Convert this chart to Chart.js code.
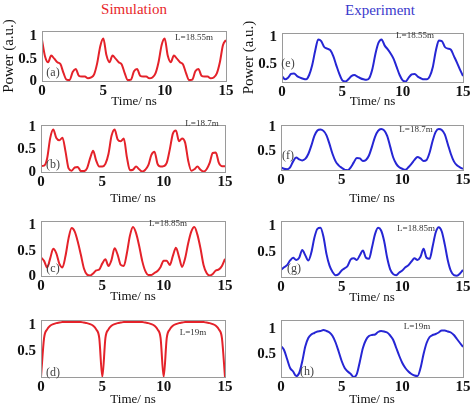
<!DOCTYPE html>
<html>
<head>
<meta charset="utf-8">
<script src="https://cdn.jsdelivr.net/npm/chart.js@4.4.0/dist/chart.umd.min.js"></script>
<style>
  body { margin: 0; background: #fff; width: 475px; height: 406px; position: relative; overflow: hidden; font-family: "Liberation Serif", serif; }
  canvas { position: absolute; }
  .txt { position: absolute; transform: translate(-50%, -50%); white-space: nowrap; line-height: 1; }
  .head { font-size: 15px; }
  .len { font-size: 9px; color: #333; }
  .tag { font-size: 12px; color: #444; }
</style>
</head>
<body>
<div class="txt head" style="left:134px;top:9px;color:#e8262a">Simulation</div>
<div class="txt head" style="left:380px;top:10px;color:#3a3acc">Experiment</div>

<script>
const timeNs = [
  0, 0.25, 0.5, 0.75, 1, 1.25, 1.5, 1.75, 2, 2.25, 2.5, 2.75, 3, 3.25, 3.5, 3.75, 4, 4.25, 4.5, 4.75,
  5, 5.25, 5.5, 5.75, 6, 6.25, 6.5, 6.75, 7, 7.25, 7.5, 7.75, 8, 8.25, 8.5, 8.75, 9, 9.25, 9.5, 9.75,
  10, 10.25, 10.5, 10.75, 11, 11.25, 11.5, 11.75, 12, 12.25, 12.5, 12.75, 13, 13.25, 13.5, 13.75, 14, 14.25, 14.5, 14.75, 15
];

// simulation, left column
const simA = [
  0.92, 0.55, 0.42, 0.57, 0.5, 0.42, 0.38, 0.18, 0.03, 0.02, 0.2, 0.27, 0.12, 0.1, 0.1, 0.06, 0.08, 0.15, 0.4, 0.78,
  0.95, 0.58, 0.42, 0.57, 0.5, 0.42, 0.37, 0.17, 0.02, 0.03, 0.22, 0.27, 0.12, 0.1, 0.1, 0.06, 0.08, 0.17, 0.42, 0.8,
  0.95, 0.57, 0.42, 0.57, 0.5, 0.42, 0.37, 0.17, 0.02, 0.03, 0.22, 0.27, 0.12, 0.1, 0.1, 0.06, 0.08, 0.17, 0.42, 0.8, 0.92
];
const simB = [
  0.13, 0.14, 0.3, 0.75, 0.94, 0.75, 0.7, 0.76, 0.45, 0.08, 0.03, 0.1, 0.11, 0.02, 0.02, 0.08, 0.3, 0.47, 0.25, 0.12,
  0.12, 0.18, 0.4, 0.8, 0.94, 0.72, 0.68, 0.74, 0.33, 0.04, 0.05, 0.12, 0.06, 0.01, 0.05, 0.15, 0.38, 0.45, 0.18, 0.12,
  0.13, 0.2, 0.5, 0.85, 0.92, 0.68, 0.74, 0.65, 0.25, 0.03, 0.06, 0.12, 0.05, 0.01, 0.06, 0.2, 0.42, 0.43, 0.2, 0.13, 0.13
];
const simC = [
  0.37, 0.3, 0.17, 0.35, 0.54, 0.45, 0.24, 0.17, 0.4, 0.75, 0.95, 0.88, 0.68, 0.42, 0.15, 0.03, 0.01, 0.05, 0.11, 0.13,
  0.25, 0.33, 0.2, 0.32, 0.55, 0.42, 0.22, 0.2, 0.45, 0.8, 0.97, 0.85, 0.6, 0.3, 0.1, 0.02, 0.02, 0.06, 0.1, 0.18,
  0.3, 0.3, 0.22, 0.4, 0.56, 0.38, 0.18, 0.35, 0.65, 0.88, 0.97, 0.82, 0.55, 0.22, 0.06, 0.01, 0.04, 0.11, 0.13, 0.2, 0.34
];
const simD = [
  0, 0.75, 0.92, 0.99, 1.02, 1.04, 1.05, 1.06, 1.06, 1.06, 1.06, 1.06, 1.06, 1.06, 1.05, 1.04, 1.02, 0.99, 0.92, 0.75,
  0, 0.75, 0.92, 0.99, 1.02, 1.04, 1.05, 1.06, 1.06, 1.06, 1.06, 1.06, 1.06, 1.06, 1.05, 1.04, 1.02, 0.99, 0.92, 0.75,
  0, 0.75, 0.92, 0.99, 1.02, 1.04, 1.05, 1.06, 1.06, 1.06, 1.06, 1.06, 1.06, 1.06, 1.05, 1.04, 1.02, 0.99, 0.92, 0.75, 0
];

// experiment, right column
const expE = [
  0.28, 0.22, 0.25, 0.32, 0.33, 0.28, 0.25, 0.23, 0.22, 0.3, 0.48, 0.75, 0.96, 0.93, 0.82, 0.79, 0.76, 0.65, 0.48, 0.32,
  0.2, 0.18, 0.22, 0.28, 0.3, 0.27, 0.24, 0.22, 0.21, 0.25, 0.42, 0.7, 0.9, 0.96, 0.85, 0.78, 0.7, 0.6, 0.45, 0.3,
  0.2, 0.18, 0.25, 0.31, 0.32, 0.27, 0.24, 0.22, 0.22, 0.28, 0.45, 0.75, 0.94, 0.93, 0.82, 0.79, 0.77, 0.65, 0.53, 0.4, 0.28
];
const expF = [
  0.18, 0.15, 0.14, 0.18, 0.3, 0.38, 0.34, 0.32, 0.35, 0.45, 0.62, 0.82, 0.93, 0.95, 0.92, 0.83, 0.65, 0.45, 0.3, 0.22,
  0.17, 0.13, 0.12, 0.18, 0.28, 0.37, 0.36, 0.31, 0.33, 0.42, 0.6, 0.8, 0.92, 0.96, 0.93, 0.82, 0.6, 0.38, 0.25, 0.18,
  0.15, 0.13, 0.18, 0.25, 0.33, 0.39, 0.36, 0.31, 0.33, 0.48, 0.72, 0.9, 0.96, 0.94, 0.85, 0.65, 0.45, 0.3, 0.22, 0.18, 0.15
];
const expG = [
  0.17, 0.22, 0.26, 0.35, 0.4, 0.36, 0.4, 0.55, 0.45, 0.35, 0.5, 0.78, 0.95, 0.97, 0.8, 0.47, 0.25, 0.13, 0.07, 0.09,
  0.16, 0.2, 0.25, 0.37, 0.39, 0.36, 0.45, 0.54, 0.4, 0.38, 0.6, 0.85, 0.97, 0.92, 0.72, 0.4, 0.18, 0.09, 0.07, 0.12,
  0.16, 0.22, 0.26, 0.33, 0.39, 0.36, 0.42, 0.57, 0.4, 0.38, 0.62, 0.88, 0.98, 0.9, 0.65, 0.35, 0.15, 0.07, 0.06, 0.1, 0.17
];
const expH = [
  0.66, 0.58, 0.4, 0.22, 0.15, 0.06, 0.12, 0.35, 0.65, 0.82, 0.89, 0.92, 0.95, 0.96, 0.98, 0.96, 0.93, 0.86, 0.73, 0.55,
  0.36, 0.22, 0.15, 0.1, 0.04, 0.1, 0.35, 0.62, 0.78, 0.86, 0.88, 0.89, 0.94, 0.96, 0.95, 0.93, 0.87, 0.78, 0.62, 0.46,
  0.32, 0.22, 0.15, 0.1, 0.07, 0.06, 0.22, 0.5, 0.72, 0.84, 0.88, 0.9, 0.93, 0.97, 0.97, 0.95, 0.93, 0.88, 0.8, 0.72, 0.64
];

const xTicks = [0, 5, 10, 15];
const yTicksFull = [0, 0.5, 1];
const yTicksTop = [0.5, 1];
const fiberLengths = ["L=18.55m", "L=18.7m", "L=18.85m", "L=19m"];

const RED = "#e4222a";
const BLUE = "#2626d4";
const SERIF = "'Liberation Serif', serif";
const AXIS_W = 42, PAD_TOP = 8, PAD_RIGHT = 12;

// box = [left, top, right, bottom] of the plot frame in page pixels
const panels = [
  { tag: "(a)", values: simA, color: RED,  box: [42, 25, 226, 81],   yMin: 0,     yMax: 1.12, yTicks: yTicksFull, yTitle: true,  gap: 20, len: 0, lenAt: [194, 37],  tagAt: [53, 72] },
  { tag: "(b)", values: simB, color: RED,  box: [41, 119, 225, 172], yMin: 0,     yMax: 1.04, yTicks: yTicksFull, yTitle: false, gap: 26, len: 1, lenAt: [202, 123], tagAt: [53, 164] },
  { tag: "(c)", values: simC, color: RED,  box: [41, 215, 225, 276], yMin: 0,     yMax: 1.09, yTicks: yTicksFull, yTitle: false, gap: 20, len: 2, lenAt: [168, 223], tagAt: [53, 268] },
  { tag: "(d)", values: simD, color: RED,  box: [41, 314, 225, 377], yMin: 0,     yMax: 1.1,  yTicks: yTicksTop,  yTitle: false, gap: 22, len: 3, lenAt: [193, 332], tagAt: [53, 372] },
  { tag: "(e)", values: expE, color: BLUE, box: [282, 27, 463, 82],  yMin: 0.17,  yMax: 1.08, yTicks: yTicksTop,  yTitle: true,  gap: 19, len: 0, lenAt: [415, 35],  tagAt: [288, 63] },
  { tag: "(f)", values: expF, color: BLUE, box: [281, 119, 463, 170], yMin: 0.125, yMax: 1.04, yTicks: yTicksTop, yTitle: false, gap: 28, len: 1, lenAt: [416, 129], tagAt: [288, 155] },
  { tag: "(g)", values: expG, color: BLUE, box: [281, 215, 463, 277], yMin: 0.035, yMax: 1.1, yTicks: yTicksTop,  yTitle: false, gap: 20, len: 2, lenAt: [416, 228], tagAt: [294, 268] },
  { tag: "(h)", values: expH, color: BLUE, box: [281, 314, 463, 377], yMin: 0.04,  yMax: 1.18, yTicks: yTicksTop, yTitle: false, gap: 22, len: 3, lenAt: [417, 326], tagAt: [307, 371] }
];

// matlab style frame round the plot area
const framePlugin = {
  id: "frame",
  afterDatasetsDraw(chart) {
    const a = chart.chartArea;
    const ctx = chart.ctx;
    ctx.save();
    ctx.strokeStyle = "#9a9a9a";
    ctx.lineWidth = 1;
    ctx.strokeRect(Math.round(a.left) + 0.5, Math.round(a.top) + 0.5, Math.round(a.right - a.left), Math.round(a.bottom - a.top));
    ctx.restore();
  }
};

function addText(cls, text, at) {
  const d = document.createElement("div");
  d.className = "txt " + cls;
  d.textContent = text;
  d.style.left = at[0] + "px";
  d.style.top = at[1] + "px";
  document.body.appendChild(d);
}

function drawPanel(p) {
  const xAxisH = p.gap + 8;
  const w = p.box[2] - p.box[0] + AXIS_W + PAD_RIGHT;
  const h = p.box[3] - p.box[1] + PAD_TOP + xAxisH;
  const cv = document.createElement("canvas");
  cv.width = w;
  cv.height = h;
  cv.style.left = (p.box[0] - AXIS_W) + "px";
  cv.style.top = (p.box[1] - PAD_TOP) + "px";
  cv.style.width = w + "px";
  cv.style.height = h + "px";
  document.body.appendChild(cv);

  const tickFont = { family: SERIF, size: 15, weight: "bold" };

  new Chart(cv, {
    type: "line",
    data: {
      datasets: [{
        data: timeNs.map((t, i) => ({ x: t, y: p.values[i] })),
        borderColor: p.color,
        borderWidth: 2,
        pointRadius: 0,
        fill: false,
        cubicInterpolationMode: "monotone"
      }]
    },
    options: {
      responsive: false,
      animation: false,
      events: [],
      layout: { padding: { top: PAD_TOP, right: PAD_RIGHT, left: 0, bottom: 0 } },
      plugins: { legend: { display: false }, tooltip: { enabled: false } },
      scales: {
        x: {
          type: "linear",
          min: 0,
          max: 15,
          afterBuildTicks: s => { s.ticks = xTicks.map(v => ({ value: v })); },
          ticks: { color: "#111", font: tickFont, padding: 1, maxRotation: 0, autoSkip: false, callback: v => String(v) },
          grid: { display: false, drawTicks: false },
          border: { display: false },
          title: { display: true, text: "Time/ ns", color: "#111", padding: 0, font: { family: SERIF, size: 13 } },
          afterFit: s => { s.height = xAxisH; }
        },
        y: {
          min: p.yMin,
          max: p.yMax,
          afterBuildTicks: s => { s.ticks = p.yTicks.map(v => ({ value: v })); },
          ticks: { color: "#111", font: tickFont, padding: 5, callback: v => String(v) },
          grid: { display: false, drawTicks: false },
          border: { display: false },
          title: { display: p.yTitle, text: "Power (a.u.)", color: "#111", padding: 0, font: { family: SERIF, size: 15 } },
          afterFit: s => { s.width = AXIS_W; }
        }
      }
    },
    plugins: [framePlugin]
  });

  addText("len", fiberLengths[p.len], p.lenAt);
  addText("tag", p.tag, p.tagAt);
}

panels.forEach(drawPanel);
</script>
</body>
</html>
